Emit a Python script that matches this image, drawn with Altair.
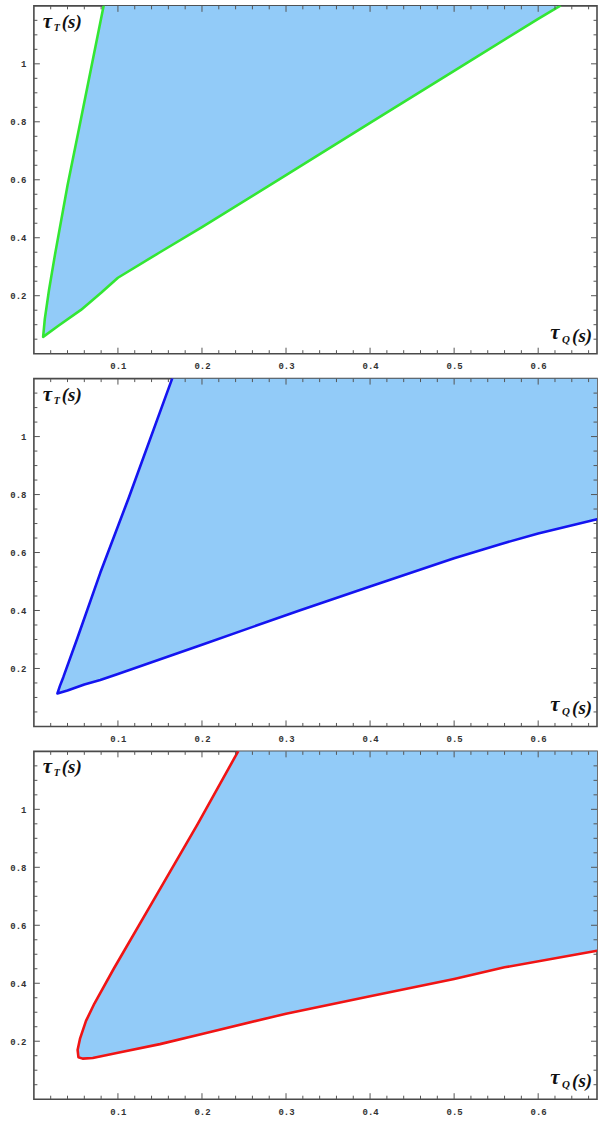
import altair as alt
import pandas as pd

# ---------------- data ----------------
# panel 1 (green boundary)
left1_x = [0.083, 0.056, 0.040, 0.025, 0.018, 0.013, 0.011]
left1_y = [1.200, 0.810, 0.580, 0.340, 0.220, 0.120, 0.058]
lower1_x = [0.011, 0.030, 0.056, 0.080, 0.100, 0.150, 0.200, 0.300, 0.400, 0.500, 0.600, 0.626]
lower1_y = [0.058, 0.098, 0.151, 0.210, 0.262, 0.350, 0.437, 0.616, 0.796, 0.976, 1.155, 1.200]
corner1_x = []
corner1_y = []

# panel 2 (blue boundary)
left2_x = [0.1645, 0.113, 0.079, 0.052, 0.035, 0.031, 0.028]
left2_y = [1.200, 0.790, 0.530, 0.307, 0.170, 0.140, 0.114]
lower2_x = [0.028, 0.040, 0.060, 0.079, 0.100, 0.200, 0.316, 0.400, 0.500, 0.553, 0.600, 0.670]
lower2_y = [0.114, 0.124, 0.145, 0.160, 0.181, 0.282, 0.400, 0.483, 0.580, 0.627, 0.666, 0.715]
corner2_x = [0.670]
corner2_y = [1.200]

# panel 3 (red boundary)
left3_x = [0.243, 0.195, 0.145, 0.095, 0.072, 0.062, 0.055, 0.052, 0.053]
left3_y = [1.200, 0.950, 0.700, 0.450, 0.330, 0.270, 0.210, 0.170, 0.145]
lower3_x = [0.053, 0.058, 0.070, 0.100, 0.150, 0.200, 0.300, 0.400, 0.500, 0.560, 0.670]
lower3_y = [0.145, 0.140, 0.142, 0.160, 0.190, 0.225, 0.295, 0.355, 0.415, 0.455, 0.512]
corner3_x = [0.670]
corner3_y = [1.200]

line_colors = ["#33e633", "#1414f0", "#f01414"]
FILL = "#92cbf8"

# axes / ticks
x_labels = [0.1, 0.2, 0.3, 0.4, 0.5, 0.6]
y_labels = [0.2, 0.4, 0.6, 0.8, 1.0]
x_minor = [round(0.02 * i, 2) for i in range(1, 34) if i % 5 != 0]
y_minor = [round(0.05 * i, 2) for i in range(1, 24) if i % 4 != 0]

ylab_parts = ["τ", "T", "(s)"]
xlab_parts = ["τ", "Q", "(s)"]

W, H = 565, 349
XDOM = [0, 0.67]
YDOM = [0, 1.2]
FRAME = "#4a4a4a"
TICK = "#555555"
LFONT = "Liberation Serif"


def xs():
    return alt.Scale(domain=XDOM, nice=False, zero=False)


def ys():
    return alt.Scale(domain=YDOM, nice=False, zero=False)


def panel(lx, ly, wx, wy, cx, cy, color):
    bx = lx + wx[1:]
    by = ly + wy[1:]
    poly = pd.DataFrame({"x": bx + cx, "y": by + cy, "o": list(range(len(bx) + len(cx)))})
    bnd = pd.DataFrame({"x": bx, "y": by, "o": list(range(len(bx)))})

    fill = alt.Chart(poly).mark_line(
        fill=FILL, stroke=FILL, strokeWidth=0.5, clip=True
    ).encode(
        x=alt.X("x:Q", scale=xs(),
                axis=alt.Axis(values=x_labels, format="~g", title=None)),
        y=alt.Y("y:Q", scale=ys(),
                axis=alt.Axis(values=y_labels, format="~g", title=None)),
        order="o:Q",
    )
    line = alt.Chart(bnd).mark_line(
        color=color, strokeWidth=2.6, clip=True, strokeJoin="round", strokeCap="round"
    ).encode(x=alt.X("x:Q", scale=xs()), y=alt.Y("y:Q", scale=ys()), order="o:Q")

    xt_major = pd.DataFrame({"v": x_labels})
    xt_minor = pd.DataFrame({"v": x_minor})
    yt_major = pd.DataFrame({"v": y_labels})
    yt_minor = pd.DataFrame({"v": y_minor})

    def xticks(df, ln):
        b = alt.Chart(df).mark_rule(color=TICK, strokeWidth=1).encode(
            x=alt.X("v:Q", scale=xs()), y=alt.value(H), y2=alt.value(H - ln))
        t = alt.Chart(df).mark_rule(color=TICK, strokeWidth=1).encode(
            x=alt.X("v:Q", scale=xs()), y=alt.value(0), y2=alt.value(ln))
        return [b, t]

    def yticks(df, ln):
        l = alt.Chart(df).mark_rule(color=TICK, strokeWidth=1).encode(
            y=alt.Y("v:Q", scale=ys()), x=alt.value(0), x2=alt.value(ln))
        r = alt.Chart(df).mark_rule(color=TICK, strokeWidth=1).encode(
            y=alt.Y("v:Q", scale=ys()), x=alt.value(W), x2=alt.value(W - ln))
        return [l, r]

    ticks = xticks(xt_major, 6) + xticks(xt_minor, 3.5) + yticks(yt_major, 6) + yticks(yt_minor, 3.5)

    def lab(txt, x, y, size):
        return alt.Chart(pd.DataFrame({"t": [txt]})).mark_text(
            font=LFONT, fontStyle="italic", fontWeight="bold", fontSize=size,
            align="left", baseline="alphabetic", color="#111"
        ).encode(text="t:N", x=alt.value(x), y=alt.value(y))

    labels = [
        lab(ylab_parts[0], 9, 22, 21),
        lab(ylab_parts[1], 20, 25, 10),
        lab(ylab_parts[2], 28, 22, 19),
        lab(xlab_parts[0], 518, 334, 21),
        lab(xlab_parts[1], 530, 338, 11),
        lab(xlab_parts[2], 540, 337, 19),
    ]

    return alt.layer(fill, line, *ticks, *labels).properties(width=W, height=H)


p1 = panel(left1_x, left1_y, lower1_x, lower1_y, corner1_x, corner1_y, line_colors[0])
p2 = panel(left2_x, left2_y, lower2_x, lower2_y, corner2_x, corner2_y, line_colors[1])
p3 = panel(left3_x, left3_y, lower3_x, lower3_y, corner3_x, corner3_y, line_colors[2])

chart = alt.vconcat(p1, p2, p3, spacing=25, bounds="flush").properties(
    padding={"left": 8, "top": 2, "right": 0, "bottom": 0},
    background="white",
).configure_view(
    stroke=FRAME, strokeWidth=1.6
).configure_axis(
    labelFont="Liberation Mono", labelFontWeight="bold", labelFontSize=9,
    labelColor="#333", ticks=False, domain=False, grid=False, labelPadding=8,
)

chart.save("out.html", embed_options={"renderer": "svg", "actions": False})
